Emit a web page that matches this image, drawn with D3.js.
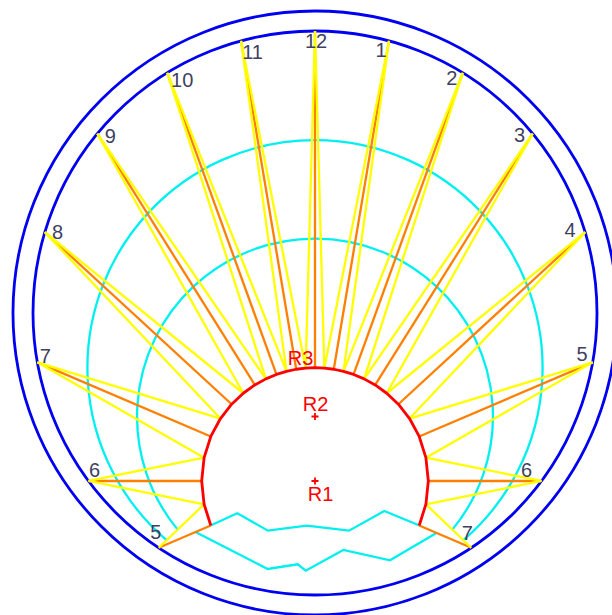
<!DOCTYPE html>
<html>
<head>
<meta charset="utf-8">
<script src="https://cdn.jsdelivr.net/npm/d3@7/dist/d3.min.js"></script>
<style>
  html, body { margin: 0; background: #fff; }
  svg { display: block; }
</style>
</head>
<body>
<svg id="dial" width="612" height="615"></svg>
<script>
// ---- Dial data (dial units: dial circle radius = 100, y up) ----

// half-hour marks of solar time, 5h to 19h
const halfHours = [5, 5.5, 6, 6.5, 7, 7.5, 8, 8.5, 9, 9.5, 10, 10.5, 11, 11.5, 12,
                   12.5, 13, 13.5, 14, 14.5, 15, 15.5, 16, 16.5, 17, 17.5, 18, 18.5, 19];
// direction of each hour line, degrees clockwise from the noon line
const lineAngles = [-113.14, -101.86, -90, -78.14, -66.86, -56.55, -47.36, -39.25, -32.08,
                    -25.69, -19.90, -14.56, -9.54, -4.72, 0, 4.72, 9.54, 14.56, 19.90,
                    25.69, 32.08, 39.25, 47.36, 56.55, 66.86, 78.14, 90, 101.86, 113.14];
// numbers written at the whole hours
const hourLabels = ["5", "6", "7", "8", "9", "10", "11", "12", "1", "2", "3", "4", "5", "6", "7"];

// reference points on the noon line
const refNames = ["R1", "R2", "R3"];
const refY = [-59.57, -36.7, -19.39];

// radii
const dialRadius = 100;      // hour circle
const rimRadius = 107.1;     // outer rim
const gnomonRadius = 40.18;  // circle round R1 where the hour lines stop
const cyanRadii = [63.1, 80.7];      // arcs round R2 and R3
const cyanCentres = [1, 2];          // index into refNames

// horizon outlines
const horizonUpperX = [-37.06, -27.56, -16.70, -2.94, 12.06, 24.57, 37.06];
const horizonUpperY = [-75.35, -71.03, -77.19, -75.42, -77.19, -70.21, -75.35];
const horizonLowerX = [-42.55, -16.77, -6.13, -3.30, 10.04, 26.60, 42.91];
const horizonLowerY = [-77.55, -90.78, -89.11, -91.38, -84.04, -87.70, -78.12];

// ---- Layout ----
const svg = d3.select("#dial");
const cx = 315, cy = 313, pxRadius = 282;
const x = d3.scaleLinear().domain([-100, 100]).range([cx - pxRadius, cx + pxRadius]);
const y = d3.scaleLinear().domain([-100, 100]).range([cy + pxRadius, cy - pxRadius]);
const k = pxRadius / 100; // pixels per dial unit

// label nudges in pixels (text centre relative to the hour point)
const labelNudge = [[-3, -16], [6, -11], [8, -6], [12.7, 0], [13, 2], [15, 7], [11.5, 11],
                    [1, 9.5], [-8, 9], [-11, 5], [-13, 1], [-15, -2.7], [-10.6, -8],
                    [-15, -11], [-4, -14.5]];
const refNudge = [[5.5, 13], [0.5, -12.5], [-14.5, -9.5]];

const R1 = { x: 0, y: refY[0] };

// geometry of each half-hour line
const marks = halfHours.map((h, i) => {
  const a = lineAngles[i] * Math.PI / 180;
  const dx = Math.sin(a), dy = Math.cos(a);
  // where the ray from R1 meets the dial circle
  const b = R1.x * dx + R1.y * dy;
  const c = R1.x * R1.x + R1.y * R1.y - dialRadius * dialRadius;
  const s = -b + Math.sqrt(b * b - c);
  return {
    hour: h,
    whole: Number.isInteger(h),
    outer: { x: R1.x + s * dx, y: R1.y + s * dy },
    inner: { x: R1.x + gnomonRadius * dx, y: R1.y + gnomonRadius * dy }
  };
});
const whole = marks.filter(m => m.whole);

const line = d3.line().x(d => x(d.x)).y(d => y(d.y));

// rim circles
const g = svg.append("g");
[dialRadius, rimRadius].forEach(r => {
  g.append("circle")
    .attr("cx", x(0)).attr("cy", y(0)).attr("r", r * k)
    .attr("fill", "none").attr("stroke", "#0000f0").attr("stroke-width", 2.8);
});

// seasonal arcs, cut where they meet the first and last yellow lines
function segCircle(A, B, C, r) {
  const ux = B.x - A.x, uy = B.y - A.y;
  const fx = A.x - C.x, fy = A.y - C.y;
  const aa = ux * ux + uy * uy, bb = 2 * (fx * ux + fy * uy), cc = fx * fx + fy * fy - r * r;
  const disc = Math.sqrt(Math.max(0, bb * bb - 4 * aa * cc));
  const t1 = (-bb - disc) / (2 * aa), t2 = (-bb + disc) / (2 * aa);
  const t = (t1 >= 0 && t1 <= 1) ? t1 : t2;
  return { x: A.x + t * ux, y: A.y + t * uy };
}
const firstYellow = [marks[0].outer, marks[1].inner];
const lastYellow = [marks[marks.length - 1].outer, marks[marks.length - 2].inner];
cyanRadii.forEach((r, i) => {
  const C = { x: 0, y: refY[cyanCentres[i]] };
  const pL = segCircle(firstYellow[0], firstYellow[1], C, r);
  const pR = segCircle(lastYellow[0], lastYellow[1], C, r);
  const pc = { x: x(C.x), y: y(C.y) };
  const aL = Math.atan2(y(pL.y) - pc.y, x(pL.x) - pc.x);
  const aR = Math.atan2(y(pR.y) - pc.y, x(pR.x) - pc.x) + 2 * Math.PI;
  const p = d3.path();
  p.arc(pc.x, pc.y, r * k, aL, aR, false);
  g.append("path").attr("d", p.toString())
    .attr("fill", "none").attr("stroke", "#00f0f0").attr("stroke-width", 2.3);
});

// horizon outlines
[[horizonUpperX, horizonUpperY], [horizonLowerX, horizonLowerY]].forEach(([xs, ys]) => {
  g.append("path").datum(xs.map((v, i) => ({ x: v, y: ys[i] })))
    .attr("d", line)
    .attr("fill", "none").attr("stroke", "#00f0f0").attr("stroke-width", 2.3)
    .attr("stroke-linejoin", "miter");
});

// hour lines
g.selectAll(".hour").data(whole).join("path")
  .attr("d", m => line([m.outer, m.inner]))
  .attr("fill", "none").attr("stroke", "#ff8000").attr("stroke-width", 2.3);

// half-hour wedges from each hour point
const wedges = [];
marks.forEach((m, i) => {
  if (!m.whole) return;
  if (i > 0) wedges.push([m.outer, marks[i - 1].inner]);
  if (i < marks.length - 1) wedges.push([m.outer, marks[i + 1].inner]);
});
g.selectAll(".wedge").data(wedges).join("path")
  .attr("d", line)
  .attr("fill", "none").attr("stroke", "#ffff00").attr("stroke-width", 2.3);

// circle round R1 joining the line ends
g.append("path").datum(marks.map(m => m.inner))
  .attr("d", line)
  .attr("fill", "none").attr("stroke", "#ff0000").attr("stroke-width", 2.8)
  .attr("stroke-linejoin", "round");

// reference point markers
refY.forEach((v, i) => {
  if (i === 2) return;
  const px = x(0), py = y(v);
  g.append("path").attr("d", `M${px - 3.5},${py}H${px + 3.5}M${px},${py - 3.5}V${py + 3.5}`)
    .attr("stroke", "#ff0000").attr("stroke-width", 1.8);
});

const fs = 20;
const font = "'Liberation Sans', Arial, Helvetica, sans-serif";

// hour numbers
g.selectAll(".hourLabel").data(whole).join("text")
  .attr("x", (m, i) => x(m.outer.x) + labelNudge[i][0])
  .attr("y", (m, i) => y(m.outer.y) + labelNudge[i][1] + 0.358 * fs)
  .attr("text-anchor", "middle")
  .attr("font-family", font).attr("font-size", fs)
  .attr("fill", "#3f3f5f")
  .text((m, i) => hourLabels[i]);

// reference point names
g.selectAll(".refLabel").data(refNames).join("text")
  .attr("x", (d, i) => x(0) + refNudge[i][0])
  .attr("y", (d, i) => y(refY[i]) + refNudge[i][1] + 0.358 * fs)
  .attr("text-anchor", "middle")
  .attr("font-family", font).attr("font-size", fs)
  .attr("fill", "#ff0000")
  .text(d => d);
</script>
</body>
</html>
